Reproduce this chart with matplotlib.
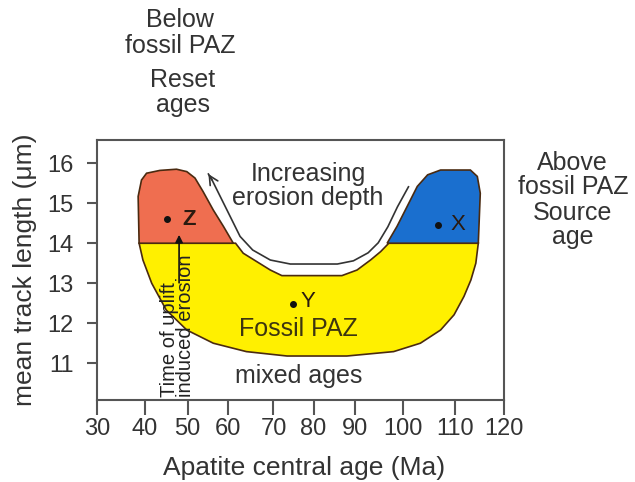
#!/usr/bin/env python3

import numpy as np
import matplotlib
matplotlib.use("Agg")
import matplotlib.pyplot as plt

plt.rcParams["font.family"] = ["Liberation Sans", "DejaVu Sans"]

# x axis of the original is hand drawn: ticks are not evenly spaced
AGE_TICKS = [30, 40, 50, 60, 70, 80, 90, 100, 110, 120]
AGE_TICK_SPACING = [0, 47.7, 90.4, 131.0, 176.0, 216.0, 257.0, 305.0, 356.7, 406.0]
LENGTH_TICKS = [11, 12, 13, 14, 15, 16]

# region outlines, age (Ma) / mean track length (um)
reset_age = [38.8, 38.6, 39.3, 40.4, 43.5, 47.4, 49.8, 51.8, 53.8, 56.3, 58.8, 61.1]
reset_len = [14.0, 15.17, 15.58, 15.75, 15.82, 15.85, 15.79, 15.63, 15.29, 14.83, 14.42, 14.0]

source_age = [96.75, 98.8, 100.85, 102.8, 104.8, 107.3, 113.2, 114.6, 115.2, 114.8]
source_len = [14.0, 14.42, 14.92, 15.42, 15.71, 15.83, 15.83, 15.67, 15.25, 14.0]

fossil_age = [38.8, 61.6, 63.3, 66.3, 69.3, 72.1, 86.9, 90.5, 93.3, 95.4, 97.1, 114.8,
              114.3, 113.3, 111.9, 109.9, 107.3, 103.4, 98.1, 88.1, 73.4, 64.0, 56.3,
              49.8, 45.0, 41.6, 39.6]
fossil_len = [14.0, 14.0, 13.75, 13.54, 13.33, 13.19, 13.19, 13.33, 13.58, 13.79, 14.0, 14.0,
              13.5, 13.08, 12.67, 12.21, 11.83, 11.5, 11.29, 11.18, 11.18, 11.29, 11.5,
              11.83, 12.33, 13.0, 13.58]

# "increasing erosion depth" arrow path
erosion_age = [101.1, 98.9, 96.9, 94.9, 92.8, 89.7, 85.8, 74.2, 69.3, 65.4, 62.6, 60.4,
               58.0, 56.0, 55.1]
erosion_len = [15.41, 14.91, 14.41, 14.01, 13.76, 13.56, 13.48, 13.48, 13.58, 13.83, 14.17,
               14.67, 15.17, 15.58, 15.73]

# samples
sample_names = ["Z", "Y", "X"]
sample_age = [45.2, 75.0, 106.8]
sample_len = [14.6, 12.48, 14.46]

# uplift arrow (age, start length, end length)
uplift_age = 48.0
uplift_len = [13.01, 14.21]


def forward(x):
    return np.interp(x, AGE_TICKS, AGE_TICK_SPACING)


def inverse(x):
    return np.interp(x, AGE_TICK_SPACING, AGE_TICKS)


fig = plt.figure(figsize=(6.35, 4.82), dpi=100)
ax = fig.add_axes([0.1528, 0.1701, 0.6409, 0.5394])
ax.set_xscale("function", functions=(forward, inverse))

outline = "#4a2a10"
ax.fill(fossil_age, fossil_len, facecolor="#fff000", edgecolor=outline, lw=1.2, zorder=2)
ax.fill(reset_age, reset_len, facecolor="#ef6e50", edgecolor=outline, lw=1.2, zorder=3)
ax.fill(source_age, source_len, facecolor="#1a6fcf", edgecolor=outline, lw=1.2, zorder=3)

ax.plot(erosion_age, erosion_len, color="#333333", lw=1.2, zorder=4)
ax.annotate("", xy=(erosion_age[-1], erosion_len[-1]),
            xytext=(erosion_age[-2], erosion_len[-2]),
            arrowprops=dict(arrowstyle="->", color="#333333", lw=1.2,
                            shrinkA=0, shrinkB=0, mutation_scale=16), zorder=4)

ax.annotate("", xy=(uplift_age, uplift_len[1]), xytext=(uplift_age, uplift_len[0]),
            arrowprops=dict(arrowstyle="-|>", color="#111111", lw=1.2,
                            shrinkA=0, shrinkB=0, mutation_scale=11), zorder=5)

ax.plot(sample_age, sample_len, "o", color="#111111", ms=4, zorder=5)
offsets = {"Z": (11, 0), "Y": (5, 2), "X": (9, 0)}
weights = {"Z": "bold", "Y": "normal", "X": "normal"}
for name, a, l in zip(sample_names, sample_age, sample_len):
    ax.annotate(name, (a, l), xytext=offsets[name], textcoords="offset points",
                va="center", ha="left", fontsize=16, color="#2a1a10",
                fontweight=weights[name], zorder=6)

text_color = "#333333"
big = 18
ax.text(78.6, 15.44, "Increasing\nerosion depth", ha="center", va="center",
        fontsize=big, color=text_color, linespacing=1.0, zorder=6)
ax.text(76.25, 11.86, "Fossil PAZ", ha="center", va="center", fontsize=big,
        color="#3d3510", zorder=6)
ax.text(76.25, 10.68, "mixed ages", ha="center", va="center", fontsize=big,
        color=text_color, zorder=6)
ax.text(47.6, 10.16, "Time of uplift\ninduced erosion", rotation=90,
        rotation_mode="anchor", ha="left", va="center", fontsize=14.5,
        linespacing=0.82, color="#222222", zorder=6)

fig.text(0.2835, 0.931, "Below\nfossil PAZ", ha="center", va="center", fontsize=big,
         color=text_color, linespacing=1.1)
fig.text(0.288, 0.808, "Reset\nages", ha="center", va="center", fontsize=big,
         color=text_color, linespacing=1.05)
fig.text(0.902, 0.637, "Above\nfossil PAZ", ha="center", va="center", fontsize=big,
         color=text_color, linespacing=0.98)
fig.text(0.902, 0.533, "Source\nage", ha="center", va="center", fontsize=big,
         color=text_color, linespacing=0.98)

ax.set_xlim(30, 120)
ax.set_ylim(10.08, 16.58)
ax.set_xticks(AGE_TICKS)
ax.set_yticks(LENGTH_TICKS)

frame = "#555555"
for spine in ax.spines.values():
    spine.set_color(frame)
    spine.set_linewidth(1.5)
ax.tick_params(axis="x", direction="out", length=11, width=1.5, color=frame,
               pad=2, labelsize=17, labelcolor=text_color)
ax.tick_params(axis="y", direction="out", length=7.5, width=1.5, color=frame,
               pad=9.5, labelsize=17, labelcolor=text_color)

ax.set_xlabel("Apatite central age (Ma)", fontsize=19, color=text_color, va="top")
ax.xaxis.set_label_coords(0.509, -0.215)
ax.set_ylabel("mean track length (\u03bcm)", fontsize=19, color=text_color)
ax.yaxis.set_label_coords(-0.147, 0.5)

fig.savefig("out.png", dpi=100)
